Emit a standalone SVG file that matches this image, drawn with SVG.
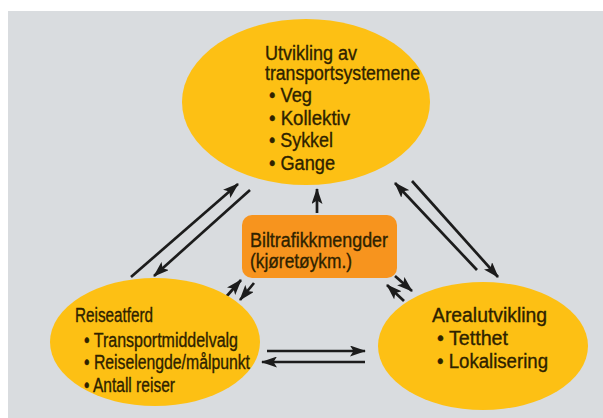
<svg xmlns="http://www.w3.org/2000/svg" width="603" height="418" viewBox="0 0 603 418">
<defs>
<marker id="ah" viewBox="0 0 16 11" refX="15" refY="5.5" markerWidth="16" markerHeight="11" markerUnits="userSpaceOnUse" orient="auto">
<path d="M0,0 L16,5.5 L0,11 L3.5,5.5 Z" fill="#1c1c1c"/>
</marker>
</defs>
<style>
.ell{fill:#fdc014;}
.box{fill:#f7941e;}
.t{font-family:"Liberation Sans",Arial,sans-serif;font-size:20px;fill:#2e2200;stroke:#2e2200;stroke-width:0.35;}
.c{stroke:#1c1c1c;stroke-width:2.7;fill:none;marker-end:url(#ah);}
</style>
<rect x="0" y="0" width="603" height="418" fill="#ffffff"/>
<rect x="8" y="11" width="595" height="407" fill="#d9dcdf"/>

<g id="connectors">
<line class="c" x1="131" y1="277" x2="238" y2="184"/>
<line class="c" x1="250" y1="190" x2="154" y2="276"/>
<line class="c" x1="477" y1="270" x2="395" y2="183"/>
<line class="c" x1="412" y1="181" x2="498" y2="277"/>
<line class="c" x1="267" y1="351" x2="365" y2="351"/>
<line class="c" x1="365" y1="362" x2="262" y2="362"/>
<line class="c" x1="317" y1="213" x2="317" y2="189"/>
<line class="c" x1="226" y1="297" x2="241" y2="280"/>
<line class="c" x1="254" y1="283" x2="240" y2="300"/>
<line class="c" x1="395" y1="276" x2="412" y2="291"/>
<line class="c" x1="404" y1="301" x2="387" y2="285"/>
</g>

<g id="transportsystemene">
<ellipse class="ell" cx="306" cy="102" rx="124" ry="83"/>
<text class="t" x="265" y="60" textLength="92" lengthAdjust="spacingAndGlyphs">Utvikling av</text>
<text class="t" x="265" y="80" textLength="155" lengthAdjust="spacingAndGlyphs">transportsystemene</text>
<text class="t" x="269" y="102" textLength="43" lengthAdjust="spacingAndGlyphs">• Veg</text>
<text class="t" x="269" y="125" textLength="81" lengthAdjust="spacingAndGlyphs">• Kollektiv</text>
<text class="t" x="269" y="147" textLength="64" lengthAdjust="spacingAndGlyphs">• Sykkel</text>
<text class="t" x="269" y="170" textLength="66" lengthAdjust="spacingAndGlyphs">• Gange</text>
</g>

<g id="reiseatferd">
<ellipse class="ell" cx="155" cy="342" rx="105" ry="64"/>
<text class="t" x="75" y="322" textLength="78" lengthAdjust="spacingAndGlyphs">Reiseatferd</text>
<text class="t" x="84" y="347" textLength="154" lengthAdjust="spacingAndGlyphs">• Transportmiddelvalg</text>
<text class="t" x="84" y="369" textLength="166" lengthAdjust="spacingAndGlyphs">• Reiselengde/målpunkt</text>
<text class="t" x="84" y="392" textLength="91" lengthAdjust="spacingAndGlyphs">• Antall reiser</text>
</g>

<g id="arealutvikling">
<ellipse class="ell" cx="483" cy="346" rx="105" ry="64"/>
<text class="t" x="432" y="322" textLength="115" lengthAdjust="spacingAndGlyphs">Arealutvikling</text>
<text class="t" x="437" y="345" textLength="71" lengthAdjust="spacingAndGlyphs">• Tetthet</text>
<text class="t" x="437" y="368" textLength="111" lengthAdjust="spacingAndGlyphs">• Lokalisering</text>
</g>

<g id="biltrafikkmengder">
<rect class="box" x="242" y="215" width="155" height="63" rx="10" ry="10"/>
<text class="t" x="250" y="247" textLength="138" lengthAdjust="spacingAndGlyphs">Biltrafikkmengder</text>
<text class="t" x="250" y="268" textLength="102" lengthAdjust="spacingAndGlyphs">(kjøretøykm.)</text>
</g>
</svg>
